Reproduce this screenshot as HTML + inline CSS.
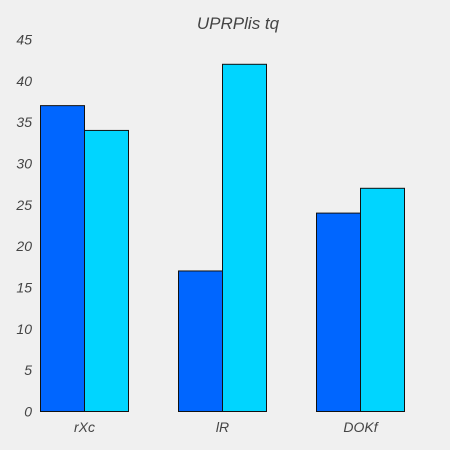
<!DOCTYPE html>
<html><head><style>body{margin:0;background:#f0f0f0}svg{display:block}text{font-family:"Liberation Sans",sans-serif;font-style:italic;fill:#444}</style></head>
<body>
<svg id="c" width="450" height="450">
<rect width="450" height="450" fill="#f0f0f0"/>
<text x="238" y="29" font-size="17" text-anchor="middle">UPRPlis tq</text>
</svg>
<script>
const categories=["rXc","lR","DOKf"];
const series1=[37,17,24];
const series2=[34,42,27];
const yTicks=[0,5,10,15,20,25,30,35,40,45];
const svg=document.getElementById('c');const NS='http://www.w3.org/2000/svg';
const y=v=>411.5-v*(372/45);
const xc=i=>84.5+138*i;
const bw=44;
function mk(t,a,p){const e=document.createElementNS(NS,t);for(const k in a)e.setAttribute(k,a[k]);(p||svg).appendChild(e);return e;}
yTicks.forEach(v=>{const t=mk('text',{x:32,y:y(v)+5,'font-size':14,'text-anchor':'end'});t.textContent=v;

});
categories.forEach((c,i)=>{
const b1=mk('rect',{x:xc(i)-bw,y:y(series1[i]),width:bw,height:y(0)-y(series1[i]),fill:'#0066ff',stroke:'#111','stroke-width':1});


const b2=mk('rect',{x:xc(i),y:y(series2[i]),width:bw,height:y(0)-y(series2[i]),fill:'#00d5ff',stroke:'#111','stroke-width':1});


const t=mk('text',{x:xc(i),y:432,'font-size':14,'text-anchor':'middle'});t.textContent=c;


});
</script>
</body></html>
